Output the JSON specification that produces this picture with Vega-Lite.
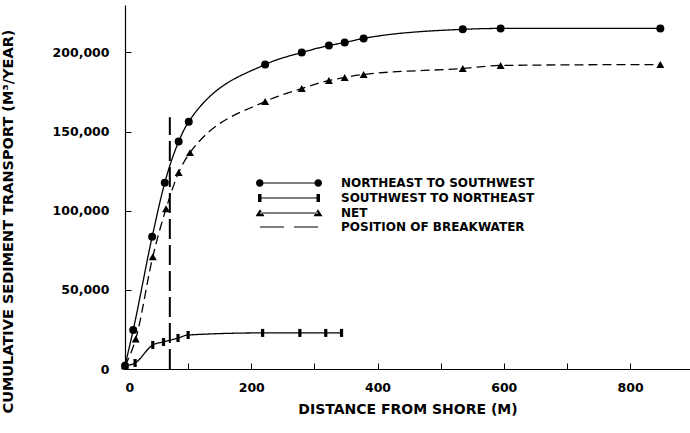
{
  "$schema": "https://vega.github.io/schema/vega-lite/v6.json",
  "width": 565,
  "height": 364,
  "autosize": {"type": "none"},
  "padding": {"left": 125, "top": 5, "right": 0, "bottom": 64},
  "background": "white",
  "config": {
    "view": {"stroke": null},
    "font": "DejaVu Sans",
    "axis": {
      "domainColor": "black",
      "domainWidth": 1.2,
      "tickColor": "black",
      "tickSize": -6,
      "tickWidth": 1,
      "grid": false,
      "labelFont": "DejaVu Sans",
      "labelFontWeight": "bold",
      "labelFontSize": 12.5,
      "labelColor": "black",
      "titleFont": "DejaVu Sans",
      "titleFontWeight": "bold",
      "titleFontSize": 14,
      "titleColor": "black"
    }
  },
  "data": {
    "values": [
      {"series": "NORTHEAST TO SOUTHWEST", "x": 0, "y": 2000},
      {"series": "NORTHEAST TO SOUTHWEST", "x": 13, "y": 24700},
      {"series": "NORTHEAST TO SOUTHWEST", "x": 43, "y": 83500},
      {"series": "NORTHEAST TO SOUTHWEST", "x": 63, "y": 117700},
      {"series": "NORTHEAST TO SOUTHWEST", "x": 85, "y": 143700},
      {"series": "NORTHEAST TO SOUTHWEST", "x": 101, "y": 156300},
      {"series": "NORTHEAST TO SOUTHWEST", "x": 222, "y": 192400},
      {"series": "NORTHEAST TO SOUTHWEST", "x": 280, "y": 200000},
      {"series": "NORTHEAST TO SOUTHWEST", "x": 323, "y": 204400},
      {"series": "NORTHEAST TO SOUTHWEST", "x": 348, "y": 206300},
      {"series": "NORTHEAST TO SOUTHWEST", "x": 378, "y": 208900},
      {"series": "NORTHEAST TO SOUTHWEST", "x": 535, "y": 214600},
      {"series": "NORTHEAST TO SOUTHWEST", "x": 595, "y": 215200},
      {"series": "NORTHEAST TO SOUTHWEST", "x": 848, "y": 215200},
      {"series": "SOUTHWEST TO NORTHEAST", "x": 0, "y": 2000},
      {"series": "SOUTHWEST TO NORTHEAST", "x": 16, "y": 3800},
      {"series": "SOUTHWEST TO NORTHEAST", "x": 44, "y": 15200},
      {"series": "SOUTHWEST TO NORTHEAST", "x": 61, "y": 17100},
      {"series": "SOUTHWEST TO NORTHEAST", "x": 84, "y": 19600},
      {"series": "SOUTHWEST TO NORTHEAST", "x": 100, "y": 21500},
      {"series": "SOUTHWEST TO NORTHEAST", "x": 218, "y": 22800},
      {"series": "SOUTHWEST TO NORTHEAST", "x": 277, "y": 22800},
      {"series": "SOUTHWEST TO NORTHEAST", "x": 318, "y": 22800},
      {"series": "SOUTHWEST TO NORTHEAST", "x": 343, "y": 22800},
      {"series": "NET", "x": 0, "y": 2000},
      {"series": "NET", "x": 17, "y": 19000},
      {"series": "NET", "x": 44, "y": 70900},
      {"series": "NET", "x": 65, "y": 101300},
      {"series": "NET", "x": 85, "y": 124100},
      {"series": "NET", "x": 103, "y": 136700},
      {"series": "NET", "x": 222, "y": 169000},
      {"series": "NET", "x": 280, "y": 177200},
      {"series": "NET", "x": 323, "y": 182300},
      {"series": "NET", "x": 348, "y": 184200},
      {"series": "NET", "x": 378, "y": 186100},
      {"series": "NET", "x": 535, "y": 189900},
      {"series": "NET", "x": 595, "y": 191800},
      {"series": "NET", "x": 848, "y": 192400},
      {"series": "POSITION OF BREAKWATER", "x": 71, "y": 0},
      {"series": "POSITION OF BREAKWATER", "x": 71, "y": 159000}
    ]
  },
  "encoding": {
    "x": {
      "field": "x",
      "type": "quantitative",
      "scale": {"domain": [0, 895], "nice": false, "zero": false},
      "axis": {
        "values": [0, 100, 200, 300, 400, 500, 600, 700, 800],
        "labelExpr": "datum.value % 200 === 0 ? datum.value + '' : ''",
        "labelPadding": 18,
        "title": "DISTANCE FROM SHORE (M)",
        "titleY": 40,
        "titleBaseline": "middle"
      }
    },
    "y": {
      "field": "y",
      "type": "quantitative",
      "scale": {"domain": [0, 230000], "nice": false},
      "axis": {
        "values": [0, 50000, 100000, 150000, 200000],
        "labelExpr": "format(datum.value, ',')",
        "labelPadding": 22,
        "title": "CUMULATIVE SEDIMENT TRANSPORT (M³/YEAR)",
        "titleX": -117,
        "titleY": 216,
        "titleAngle": -90,
        "titleAlign": "center",
        "titleBaseline": "middle",
        "titleAnchor": null,
        "titleFontSize": 14.5
      }
    }
  },
  "layer": [
    {
      "transform": [{"filter": "datum.series !== 'POSITION OF BREAKWATER'"}],
      "mark": {"type": "line", "interpolate": "monotone", "color": "black", "strokeWidth": 1.3},
      "encoding": {
        "detail": {"field": "series"},
        "strokeDash": {
          "field": "series",
          "type": "nominal",
          "scale": {
            "domain": ["NORTHEAST TO SOUTHWEST", "SOUTHWEST TO NORTHEAST", "NET"],
            "range": [[1, 0], [1, 0], [9, 5]]
          },
          "legend": null
        }
      }
    },
    {
      "transform": [{"filter": "datum.series === 'POSITION OF BREAKWATER'"}],
      "mark": {"type": "line", "color": "black", "strokeWidth": 2, "strokeDash": [20, 6]},
      "encoding": {}
    },
    {
      "transform": [{"filter": "datum.series !== 'POSITION OF BREAKWATER'"}],
      "mark": {"type": "point", "filled": true, "color": "black", "opacity": 1, "size": 64},
      "encoding": {
        "shape": {
          "field": "series",
          "type": "nominal",
          "scale": {
            "domain": ["NORTHEAST TO SOUTHWEST", "SOUTHWEST TO NORTHEAST", "NET"],
            "range": ["circle", "M-0.4,-1L0.4,-1L0.4,1L-0.4,1Z", "triangle-up"]
          },
          "legend": null
        }
      }
    },
    {
      "mark": {"type": "point", "filled": true, "color": "black", "opacity": 0, "size": 100},
      "encoding": {
        "shape": {
          "field": "series",
          "type": "nominal",
          "scale": {
            "domain": ["NORTHEAST TO SOUTHWEST", "SOUTHWEST TO NORTHEAST", "NET", "POSITION OF BREAKWATER"],
            "range": [
              "M-5.8,-0.11L5.8,-0.11L5.8,0.11L-5.8,0.11ZM-5.1,0A0.75,0.75,0,1,1,-6.6,0A0.75,0.75,0,1,1,-5.1,0ZM6.6,0A0.75,0.75,0,1,1,5.1,0A0.75,0.75,0,1,1,6.6,0Z",
              "M-5.8,-0.11L5.8,-0.11L5.8,0.11L-5.8,0.11ZM-6.2,-0.8L-5.5,-0.8L-5.5,0.8L-6.2,0.8ZM5.5,-0.8L6.2,-0.8L6.2,0.8L5.5,0.8Z",
              "M-5.8,-0.11L5.8,-0.11L5.8,0.11L-5.8,0.11ZM-5.8,-0.75L-6.7,0.65L-4.9,0.65ZM5.8,-0.75L4.9,0.65L6.7,0.65Z",
              "M-5.8,-0.12L-1.0,-0.12L-1.0,0.12L-5.8,0.12ZM1.0,-0.12L5.8,-0.12L5.8,0.12L1.0,0.12Z"
            ]
          },
          "legend": {
            "title": null,
            "orient": "none",
            "legendX": 158,
            "legendY": 172,
            "padding": 0,
            "labelOffset": 46,
            "labelFont": "DejaVu Sans",
            "labelFontWeight": "bold",
            "labelFontSize": 12,
            "labelColor": "black",
            "rowPadding": 1,
            "symbolSize": 100,
            "labelLimit": 400,
            "encode": {
              "symbols": {
                "update": {
                  "fill": {"value": "black"},
                  "fillOpacity": {"value": 1},
                  "stroke": {"value": "black"},
                  "strokeWidth": {"value": 0.6},
                  "opacity": {"value": 1}
                }
              }
            }
          }
        }
      }
    }
  ],
  "resolve": {"scale": {"shape": "independent"}}
}
